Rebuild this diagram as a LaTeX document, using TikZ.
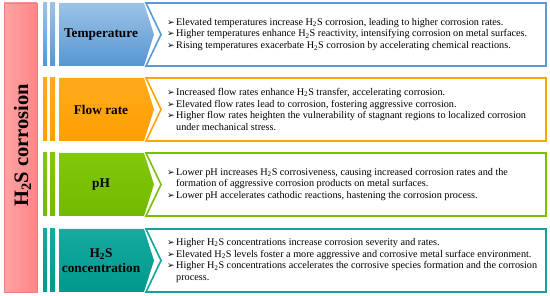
\documentclass[tikz,border=0pt]{standalone}
\usepackage{fontspec}
\setmainfont{Liberation Serif}
\newfontfamily\symfont{DejaVu Sans}
\usetikzlibrary{positioning}
\definecolor{barLeft}{HTML}{FFA3A3}
\definecolor{barRight}{HTML}{FF8686}
\definecolor{barEdge}{HTML}{E98080}
\definecolor{tempTop}{HTML}{9DC3E6}
\definecolor{tempBot}{HTML}{5696D2}
\definecolor{tempEdge}{HTML}{5B9BD5}
\definecolor{flowTop}{HTML}{FFAA1C}
\definecolor{flowBot}{HTML}{FF9F00}
\definecolor{flowEdge}{HTML}{FFA500}
\definecolor{phTop}{HTML}{82C80A}
\definecolor{phBot}{HTML}{72BA00}
\definecolor{phEdge}{HTML}{7AC000}
\definecolor{concTop}{HTML}{16AAA0}
\definecolor{concBot}{HTML}{00998E}
\definecolor{concEdge}{HTML}{14A39A}
\newcommand{\hs}{H\textsubscript{2}S}
\newcommand{\bul}{\makebox[9pt][l]{\symfont\fontsize{9}{9}\selectfont\char"27A2}}
\newcommand{\cont}{\hspace*{9pt}}

\begin{document}
\begin{tikzpicture}[x=1pt,y=-1pt,
  lab/.style={font=\fontsize{13.3}{15}\selectfont\bfseries,align=center},
  txt/.style={font=\fontsize{10.2}{11.7}\selectfont,anchor=west,align=left,inner sep=0pt}]
\useasboundingbox (0,0) rectangle (550,296);
\shade[left color=barLeft,right color=barRight,draw=barEdge,line width=0.6pt] (4,3) rectangle (37,292);
\node[rotate=90,font=\fontsize{20.5}{22}\selectfont\bfseries] (title) at (22.5,145.5) {\hs{} corrosion};
\foreach \t/\ca/\cb/\ce/\lab/\txt [count=\i] in {
  3/tempTop/tempBot/tempEdge/{Temperature}/{\bul Elevated temperatures increase \hs{} corrosion, leading to higher corrosion rates.\\
    \bul Higher temperatures enhance \hs{} reactivity, intensifying corrosion on metal surfaces.\\
    \bul Rising temperatures exacerbate \hs{} corrosion by accelerating chemical reactions.},
  78/flowTop/flowBot/flowEdge/{Flow rate}/{\bul Increased flow rates enhance \hs{} transfer, accelerating corrosion.\\
    \bul Elevated flow rates lead to corrosion, fostering aggressive corrosion.\\
    \bul Higher flow rates heighten the vulnerability of stagnant regions to localized corrosion\\
    \cont under mechanical stress.},
  153/phTop/phBot/phEdge/{pH}/{\bul Lower pH increases \hs{} corrosiveness, causing increased corrosion rates and the\\
    \cont formation of aggressive corrosion products on metal surfaces.\\
    \bul Lower pH accelerates cathodic reactions, hastening the corrosion process.},
  229/concTop/concBot/concEdge/{\hs\\concentration}/{\bul Higher \hs{} concentrations increase corrosion severity and rates.\\
    \bul Elevated \hs{} levels foster a more aggressive and corrosive metal surface environment.\\
    \bul Higher \hs{} concentrations accelerates the corrosive species formation and the corrosion\\
    \cont process.}}{
  \shade[top color=\ca,bottom color=\cb] (43,\t) rectangle (47,\t+63);
  \shade[top color=\ca,bottom color=\cb] (50,\t) rectangle (55,\t+63);
  \shade[top color=\ca,bottom color=\cb] (59,\t) -- (144,\t) -- (154,\t+31.5) -- (144,\t+63) -- (59,\t+63) -- cycle;
  \draw[\ce,line width=1.6pt,fill=white] (146,\t) -- (546,\t) -- (546,\t+63) -- (146,\t+63) -- (161,\t+31.5) -- cycle;
  \node[lab] (lab\i) at (101,\t+31.5) {\lab};
  \node[txt] (txt\i) at (167,\t+31.5) {\txt};
}
\end{tikzpicture}
\end{document}
